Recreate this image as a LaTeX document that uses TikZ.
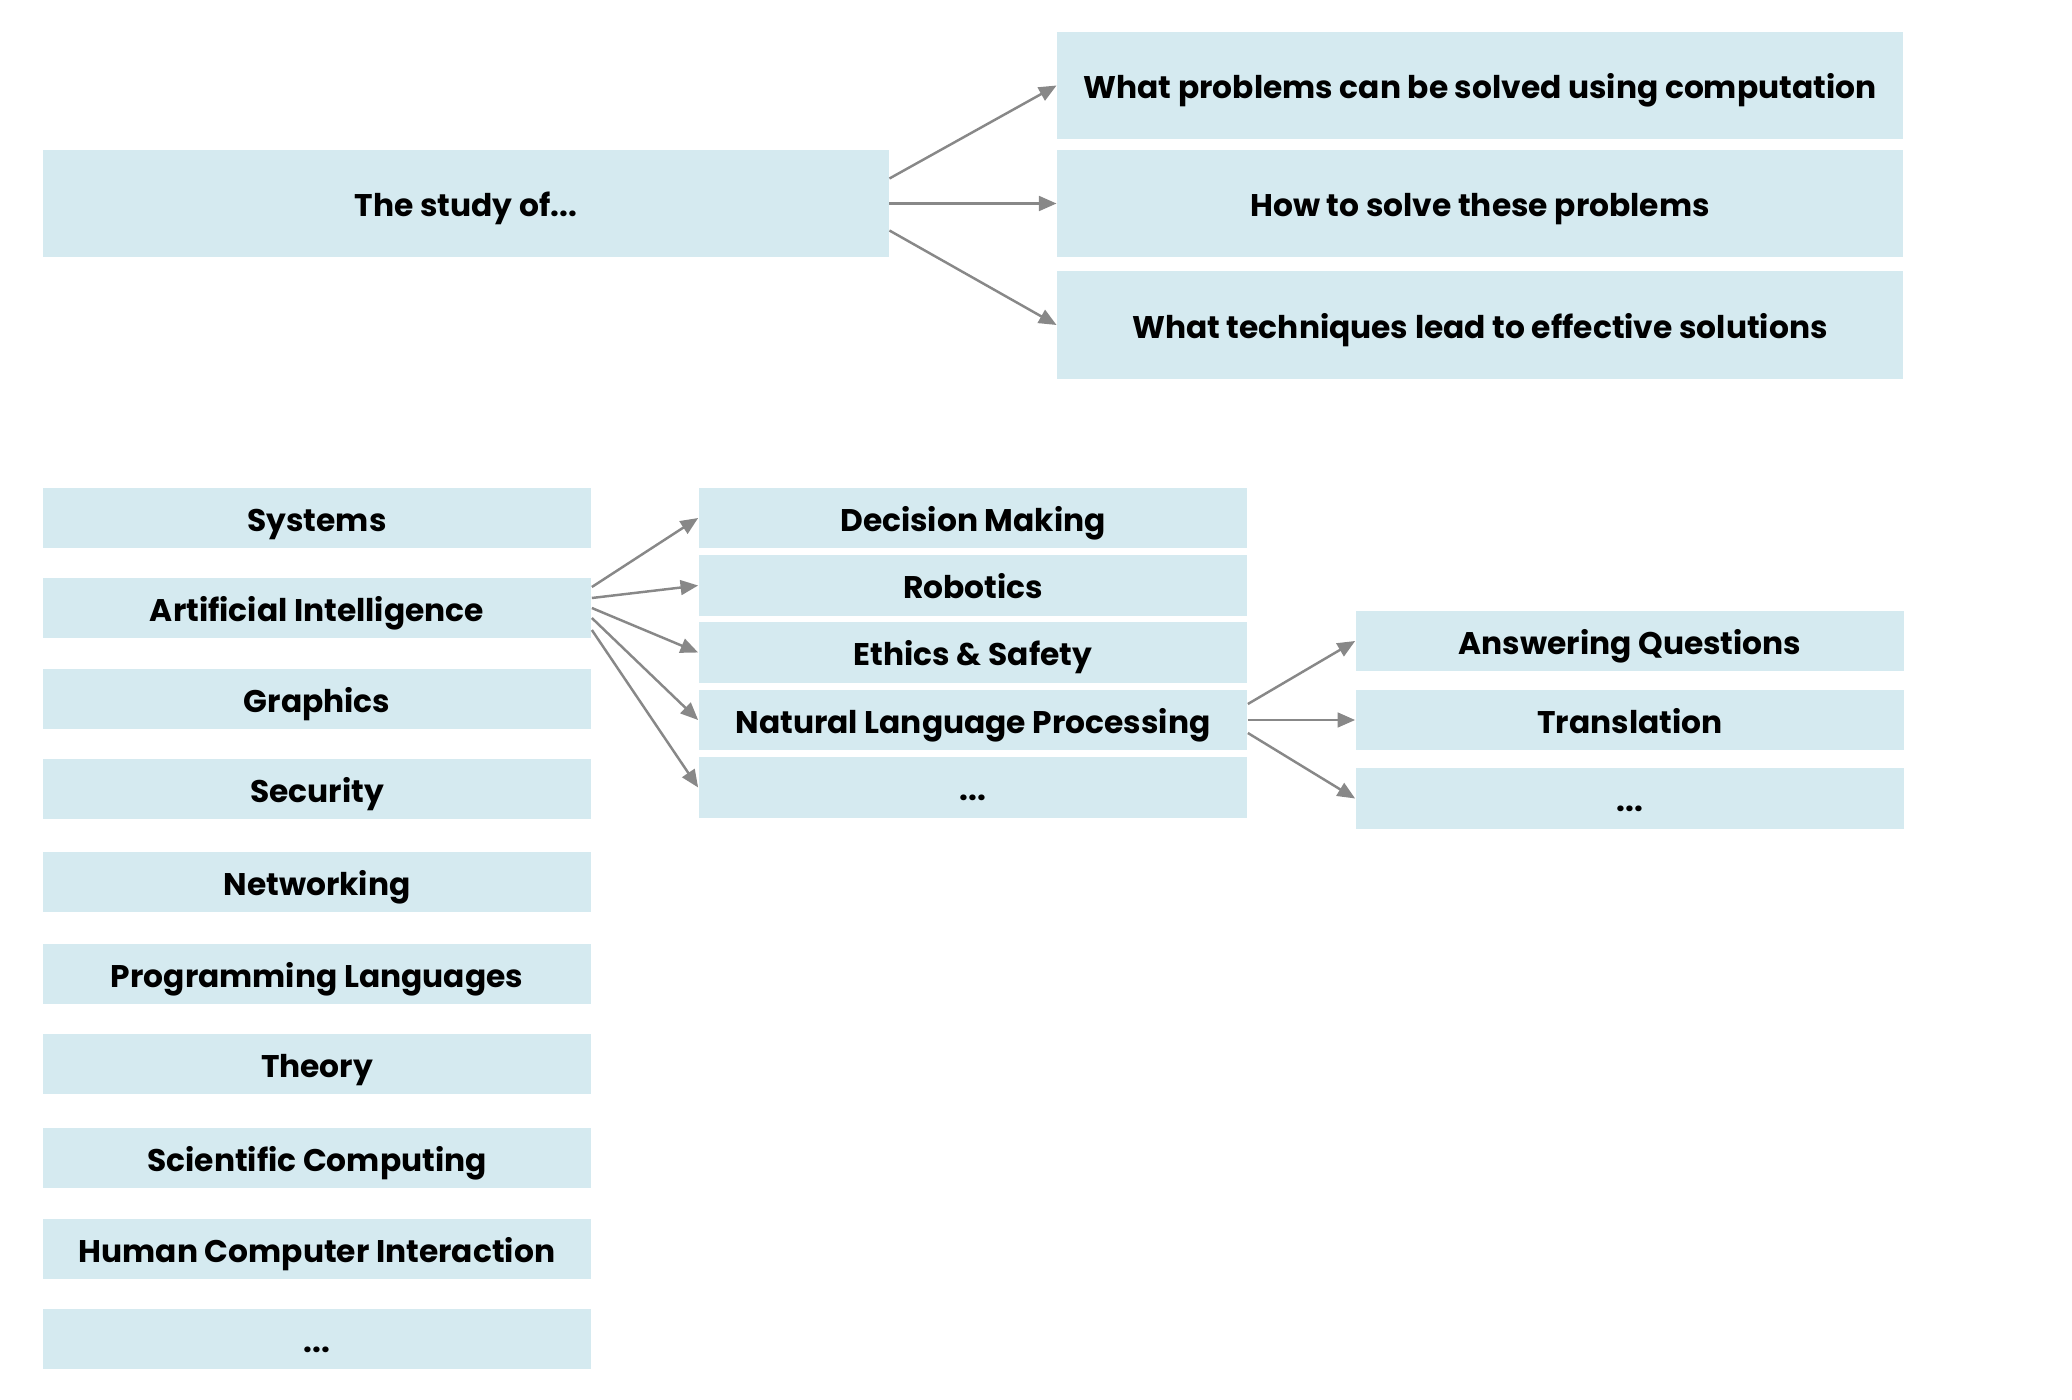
\documentclass[tikz,border=0pt]{standalone}
\usepackage{fontspec}
\setmainfont{Poppins}
\usepackage{tikz}
\usetikzlibrary{arrows.meta}
\usetikzlibrary{calc}
\usetikzlibrary{positioning}
\definecolor{boxblue}{HTML}{D5EAF0}
\definecolor{arrowgray}{HTML}{888888}
\tikzset{box/.style={fill=boxblue,inner sep=0pt,align=center,
    text height=7.4pt,text depth=0pt,
    font=\bfseries\fontsize{8.9}{11}\selectfont}}
\tikzset{bigbox/.style={box,minimum width=8.45cm,minimum height=1.07cm}}
\tikzset{smallbox/.style={box,minimum width=5.48cm,minimum height=0.6cm}}
\tikzset{arrow/.style={draw=arrowgray,line width=0.7pt,
    -{Triangle[length=5pt,width=4.2pt]}}}

\begin{document}
\begin{tikzpicture}[x=0.01cm,y=-0.01cm]
        \useasboundingbox (0,0) rectangle (2072,1400);

        \node[bigbox] (stu) at (466,203.5) {The study of...};
        \node[bigbox] (wps) at (1480,85.5) {What problems can be solved using computation};
        \node[bigbox] (hts) at (1480,203.5) {How to solve these problems};
        \node[bigbox] (wtl) at (1480,325) {What techniques lead to effective solutions};

        \node[smallbox] (sys) at (317,518) {Systems};
        \node[smallbox] (ai) at (317,608) {Artificial Intelligence};
        \node[smallbox] (gfx) at (317,699) {Graphics};
        \node[smallbox] (sec) at (317,789) {Security};
        \node[smallbox] (net) at (317,882) {Networking};
        \node[smallbox] (pl) at (317,974) {Programming Languages};
        \node[smallbox] (thy) at (317,1064) {Theory};
        \node[smallbox] (sci) at (317,1158) {Scientific Computing};
        \node[smallbox] (hci) at (317,1249) {Human Computer Interaction};
        \node[smallbox] (fmore) at (317,1339) {...};

        \node[smallbox] (dec) at (973,518) {Decision Making};
        \node[smallbox] (rob) at (973,585.5) {Robotics};
        \node[smallbox] (eth) at (973,652.5) {Ethics \& Safety};
        \node[smallbox] (nlp) at (973,720) {Natural Language Processing};
        \node[smallbox] (aimore) at (973,787.5) {...};

        \node[smallbox] (ans) at (1630,641) {Answering Questions};
        \node[smallbox] (trn) at (1630,720) {Translation};
        \node[smallbox] (nlpmore) at (1630,798.5) {...};

        \draw[arrow] ($(stu.east)+(0,-25)$) -- (wps.west);
        \draw[arrow] (stu.east) -- (hts.west);
        \draw[arrow] ($(stu.east)+(0,27)$) -- (wtl.west);

        \draw[arrow] ($(ai.east)+(0,-21)$) -- (dec.west);
        \draw[arrow] ($(ai.east)+(0,-10)$) -- (rob.west);
        \draw[arrow] (ai.east) -- (eth.west);
        \draw[arrow] ($(ai.east)+(0,10)$) -- (nlp.west);
        \draw[arrow] ($(ai.east)+(0,22)$) -- (aimore.west);

        \draw[arrow] ($(nlp.east)+(0,-16)$) -- (ans.west);
        \draw[arrow] (nlp.east) -- (trn.west);
        \draw[arrow] ($(nlp.east)+(0,13)$) -- (nlpmore.west);
    \end{tikzpicture}
\end{document}
